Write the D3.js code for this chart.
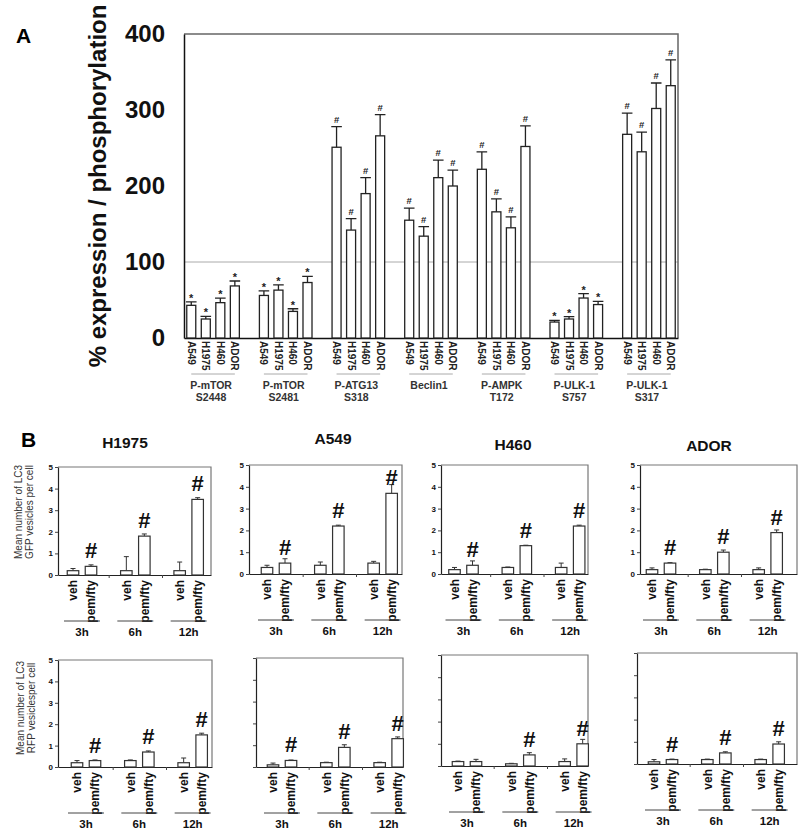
<!DOCTYPE html>
<html><head><meta charset="utf-8">
<script src="https://cdn.jsdelivr.net/npm/d3@7"></script>
<style>
body{margin:0;background:#fff}
svg{display:block}
text{font-family:"Liberation Sans",Arial,sans-serif}
</style>
</head><body>
<svg id="c" width="800" height="838"></svg>
<script>
// ---------- Panel A data ----------
const aGroups = ["P-mTOR|S2448","P-mTOR|S2481","P-ATG13|S318","Beclin1","P-AMPK|T172","P-ULK-1|S757","P-ULK-1|S317"];
const aCells = ["A549","H1975","H460","ADOR"];
const aValues = [[43,25,46.5,68.5],[56,63,35,73],[251,142,190,266],[155,134,211,200],[222,166,145,252],[21,25,52.6,44],[268,245,302,332]];
const aErrors = [[4.5,3.5,6,6.5],[6,7,3.5,8],[27,15,21,28],[16,12.5,23,21],[23,17,14.5,27],[2.2,3,5.7,4.3],[28,26,33.5,34]];
const aMarks = ["*","*","#","#","#","*","#"];
const aTicks = [0,100,200,300,400];

// ---------- Panel B data ----------
const bCells = ["H1975","A549","H460","ADOR"];
const bTimes = ["3h","6h","12h"];
const bTreat = ["veh","pem/fty"];
const bTicks = [0,1,2,3,4,5];
const gfpVeh    = [[0.2,0.2,0.2],[0.3,0.4,0.5],[0.2,0.3,0.3],[0.2,0.2,0.2]];
const gfpVehErr = [[0.1,0.65,0.4],[0.1,0.15,0.08],[0.1,0.02,0.2],[0.08,0.02,0.08]];
const gfpPem    = [[0.4,1.8,3.5],[0.5,2.2,3.7],[0.4,1.3,2.2],[0.5,1.0,1.9]];
const gfpPemErr = [[0.07,0.1,0.08],[0.2,0.04,0.4],[0.2,0.02,0.04],[0.02,0.1,0.12]];
const gfpSig    = [[1,1,1],[1,1,1],[1,1,1],[1,1,1]];
const rfpVeh    = [[0.2,0.3,0.2],[0.1,0.2,0.2],[0.2,0.1,0.2],[0.1,0.2,0.2]];
const rfpVehErr = [[0.1,0.03,0.22],[0.08,0.02,0.02],[0.02,0.02,0.12],[0.1,0.02,0.02]];
const rfpPem    = [[0.3,0.7,1.5],[0.3,0.9,1.3],[0.2,0.5,1.0],[0.2,0.5,0.9]];
const rfpPemErr = [[0.03,0.05,0.08],[0.02,0.12,0.08],[0.1,0.1,0.2],[0.02,0.05,0.1]];
const rfpSig    = [[1,1,1],[1,1,1],[0,1,1],[1,1,1]];
const rowTitles = [["Mean number of LC3","GFP vesicles per cell"],["Mean number of LC3","RFP vesiclesper cell"]];

const svg = d3.select("#c");
const FONT = '"Liberation Sans",Arial,sans-serif';

// ================= PANEL A =================
const A = {l:184, t:34, r:678, b:338};
const yA = d3.scaleLinear().domain([0,400]).range([A.b, A.t]);
const slots = d3.range(aGroups.length*5 - 1);
const xA = d3.scaleBand().domain(slots).range([A.l, A.r]).paddingInner(0.38).paddingOuter(0.19);
const gA = svg.append("g");

svg.append("text").attr("x",16).attr("y",43).attr("font-size",21).attr("font-weight","bold").text("A");

gA.append("line").attr("x1",A.l).attr("x2",A.r).attr("y1",yA(100)).attr("y2",yA(100))
  .attr("stroke","#aaa").attr("stroke-width",1);
gA.append("path").attr("d",`M${A.l},${A.t}H${A.r}V${A.b}`).attr("fill","none")
  .attr("stroke","#666").attr("stroke-width",1.5);

gA.append("g").attr("transform",`translate(${A.l},0)`)
  .call(d3.axisLeft(yA).tickValues(aTicks).tickSize(0).tickPadding(19))
  .call(g=>{
    g.select(".domain").attr("stroke","#111").attr("stroke-width",1.5);
    g.selectAll("text").attr("font-size",24).attr("font-weight","bold").attr("font-family",FONT).attr("fill","#111");
  });
gA.append("g").attr("transform",`translate(0,${A.b})`)
  .call(d3.axisBottom(xA).tickValues([]).tickSize(0).tickSizeOuter(0))
  .call(g=>g.select(".domain").attr("stroke","#111").attr("stroke-width",1.5));

gA.append("text").attr("transform",`translate(106,186) rotate(-90)`).attr("text-anchor","middle")
  .attr("font-size",24).attr("font-weight","bold").attr("fill","#111")
  .text("% expression / phosphorylation");

const aBars = [];
aGroups.forEach((g,gi)=>aCells.forEach((c,ci)=>aBars.push({gi,ci,c,v:aValues[gi][ci],e:aErrors[gi][ci],m:aMarks[gi],slot:gi*5+ci})));
const bwA = xA.bandwidth();
gA.selectAll("rect.bar").data(aBars).join("rect")
  .attr("x",d=>xA(d.slot)).attr("width",bwA)
  .attr("y",d=>yA(d.v)).attr("height",d=>A.b-yA(d.v))
  .attr("fill","#fff").attr("stroke","#222").attr("stroke-width",1.3);
gA.selectAll("path.err").data(aBars).join("path")
  .attr("d",d=>{const cx=xA(d.slot)+bwA/2, y1=yA(d.v), y2=yA(d.v+d.e), w=bwA/2+0.8;
    return `M${cx},${y1}V${y2}M${cx-w},${y2}H${cx+w}`;})
  .attr("stroke","#222").attr("stroke-width",1.3).attr("fill","none");
gA.selectAll("text.mk").data(aBars).join("text")
  .attr("x",d=>xA(d.slot)+bwA/2).attr("y",d=>yA(d.v+d.e)-(d.m==="#"?4:0))
  .attr("text-anchor","middle").attr("font-size",d=>d.m==="#"?9.5:11).attr("font-weight","bold").attr("fill","#222")
  .text(d=>d.m);
gA.selectAll("text.xl").data(aBars).join("text")
  .attr("transform",d=>`translate(${xA(d.slot)+bwA/2},341) rotate(90)`)
  .attr("dy","0.35em").attr("font-size",10).attr("font-weight","bold").attr("fill","#222")
  .text(d=>d.c);
aGroups.forEach((g,gi)=>{
  const x1 = xA(gi*5)+bwA/2, x2 = xA(gi*5+3)+bwA/2, cx=(x1+x2)/2;
  gA.append("line").attr("x1",x1).attr("x2",x2).attr("y1",374).attr("y2",374).attr("stroke","#aaa").attr("stroke-width",1);
  g.split("|").forEach((ln,li)=>{
    gA.append("text").attr("x",cx-2).attr("y",389+li*11.5).attr("text-anchor","middle")
      .attr("font-size",10.5).attr("font-weight","bold").attr("fill","#333").text(ln);
  });
});

// ================= PANEL B =================
svg.append("text").attr("x",21).attr("y",447).attr("font-size",21).attr("font-weight","bold").text("B");

const bLayout = [
  [{l:58,t:467,r:211,b:575,c0:24,lab:true},{l:249,t:465,r:402,b:574,c0:27,lab:true},
   {l:441,t:465,r:588,b:574,c0:22.5,lab:true},{l:640,t:465,r:797,b:574,c0:21,lab:true}],
  [{l:58,t:660,r:212,b:767,c0:28,lab:true},{l:256,t:658,r:403,b:767,c0:26,lab:false},
   {l:441,t:655,r:588,b:766,c0:26,lab:false},{l:637,t:653,r:797,b:764,c0:26,lab:false}]
];
const titlePos = [{x:125,y:448},{x:333,y:444},{x:513,y:450},{x:709,y:451}];
const rowData = [
  {veh:gfpVeh,vehErr:gfpVehErr,pem:gfpPem,pemErr:gfpPemErr,sig:gfpSig,tx:[22,33],ty:512},
  {veh:rfpVeh,vehErr:rfpVehErr,pem:rfpPem,pemErr:rfpPemErr,sig:rfpSig,tx:[24,35],ty:708}
];

bCells.forEach((c,ci)=>{
  svg.append("text").attr("x",titlePos[ci].x).attr("y",titlePos[ci].y).attr("text-anchor","middle")
    .attr("font-size",15.5).attr("font-weight","bold").attr("fill","#111").text(c);
});

rowData.forEach((rd,ri)=>{
  rowTitles[ri].forEach((t,li)=>{
    svg.append("text").attr("transform",`translate(${rd.tx[li]},${rd.ty}) rotate(-90)`).attr("text-anchor","middle")
      .attr("font-size",10).attr("fill","#333").text(t);
  });
  bCells.forEach((c,ci)=>{
    const L = bLayout[ri][ci];
    const g = svg.append("g");
    const y = d3.scaleLinear().domain([0,5]).range([L.b,L.t]);
    const start = L.l + L.c0 - 80/3;
    const gx = d3.scaleBand().domain(bTimes).range([start,start+160]);
    const ix = d3.scaleBand().domain(bTreat).range([-18,18]).paddingInner(0.36).paddingOuter(0.18);
    const bw = ix.bandwidth();
    // frame
    g.append("path").attr("d",`M${L.l},${L.t}H${L.r}V${L.b}`).attr("fill","none").attr("stroke","#777").attr("stroke-width",1.2);
    g.append("g").attr("transform",`translate(${L.l},0)`)
      .call(d3.axisLeft(y).tickValues(bTicks).tickSize(3).tickSizeOuter(0).tickPadding(2).tickFormat(L.lab?d3.format("d"):""))
      .call(a=>{
        a.select(".domain").attr("stroke","#222").attr("stroke-width",1.2);
        a.selectAll(".tick line").attr("stroke","#444");
        a.selectAll("text").attr("font-size",8).attr("font-weight","bold").attr("font-family",FONT).attr("fill","#111");
      });
    g.append("g").attr("transform",`translate(0,${L.b})`)
      .call(d3.axisBottom(d3.scaleLinear().domain([L.l,L.r]).range([L.l,L.r]))
        .tickValues([gx("6h"),gx("12h")]).tickSize(3).tickSizeOuter(0).tickFormat(""))
      .call(a=>{a.select(".domain").attr("stroke","#222").attr("stroke-width",1.2); a.selectAll(".tick line").attr("stroke","#444");});

    const bars = [];
    bTimes.forEach((t,ti)=>{
      bars.push({t,tr:"veh",v:rd.veh[ci][ti],e:rd.vehErr[ci][ti],s:0});
      bars.push({t,tr:"pem/fty",v:rd.pem[ci][ti],e:rd.pemErr[ci][ti],s:rd.sig[ci][ti]});
    });
    const cxOf = d=>gx(d.t)+gx.bandwidth()/2+ix(d.tr)+bw/2;
    g.selectAll("path.err").data(bars).join("path")
      .attr("d",d=>{const cx=cxOf(d), y1=y(d.v), y2=y(d.v+d.e);
        return `M${cx},${y1}V${y2}M${cx-2.5},${y2}H${cx+2.5}`;})
      .attr("stroke","#333").attr("stroke-width",1).attr("fill","none");
    g.selectAll("rect.bar").data(bars).join("rect")
      .attr("x",d=>cxOf(d)-bw/2).attr("width",bw).attr("y",d=>y(d.v)).attr("height",d=>L.b-y(d.v))
      .attr("fill","#fff").attr("stroke","#333").attr("stroke-width",1.2);
    g.selectAll("text.sig").data(bars.filter(d=>d.s)).join("text")
      .attr("x",d=>cxOf(d)).attr("y",d=>y(d.v)-8).attr("text-anchor","middle")
      .attr("font-size",22).attr("font-weight","bold").attr("fill","#111").text("#");
    g.selectAll("text.xl").data(bars).join("text")
      .attr("transform",d=>`translate(${cxOf(d)},${L.b+5}) rotate(-90)`)
      .attr("text-anchor","end").attr("dy","0.35em").attr("font-size",12).attr("font-weight","bold").attr("fill","#111")
      .text(d=>d.tr);
    bTimes.forEach(t=>{
      const cx = gx(t)+gx.bandwidth()/2;
      g.append("line").attr("x1",cx-18).attr("x2",cx+18).attr("y1",L.b+46).attr("y2",L.b+46).attr("stroke","#444").attr("stroke-width",1);
      g.append("text").attr("x",cx).attr("y",L.b+61).attr("text-anchor","middle")
        .attr("font-size",11.5).attr("font-weight","bold").attr("fill","#111").text(t);
    });
  });
});
</script>
</body></html>
